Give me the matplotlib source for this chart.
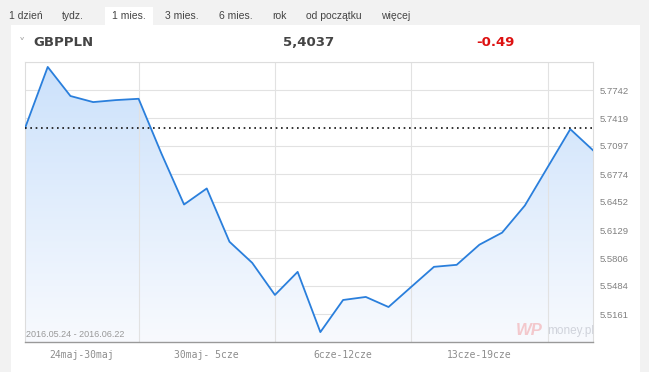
import numpy as np
import matplotlib.pyplot as plt
from matplotlib.patches import Rectangle

# dane z wykresu GBPPLN (1 mies.)
values = [5.7302, 5.8008, 5.7673, 5.7603, 5.7626, 5.7641, 5.7013, 5.6423, 5.6608,
          5.5994, 5.5751, 5.5381, 5.5647, 5.4953, 5.5323, 5.5358, 5.5242, 5.5474,
          5.5705, 5.5728, 5.5960, 5.6099, 5.6411, 5.6851, 5.7291, 5.7048]
ytick_labels = ["5.5161", "5.5484", "5.5806", "5.6129", "5.6452", "5.6774",
                "5.7097", "5.7419", "5.7742"]
week_labels = ["24maj-30maj", "30maj- 5cze", "6cze-12cze", "13cze-19cze"]
tabs = ["1 dzień", "tydz.", "1 mies.", "3 mies.", "6 mies.", "rok", "od początku", "więcej"]
tab_x = [26, 73, 129, 182, 236, 279, 334, 396]

plt.rcParams['font.family'] = ['Liberation Sans', 'DejaVu Sans']

W, H = 649, 372
fig = plt.figure(figsize=(W / 100, H / 100), dpi=100)
fig.patch.set_facecolor("#f2f2f2")

def fx(px):
    return px / W

def fy(py):
    return 1 - py / H

# white panel + selected tab
fig.patches.append(Rectangle((fx(11), 0), fx(629), fy(25), transform=fig.transFigure,
                             facecolor="white", edgecolor="none", zorder=-10))
fig.patches.append(Rectangle((fx(105), fy(25)), fx(48), 18 / H, transform=fig.transFigure,
                             facecolor="white", edgecolor="none", zorder=-10))

for t, x in zip(tabs, tab_x):
    fig.text(fx(x), fy(16), t, ha="center", va="center", fontsize=7.5, color="#444444")

fig.text(fx(22), fy(43), "˅", ha="center", va="center", fontsize=9, color="#aaaaaa",
         family="DejaVu Sans")
hdr = dict(va="center", fontsize=9.5, fontweight="bold", family="DejaVu Sans")
fig.text(fx(33), fy(43), "GBPPLN", ha="left", color="#444444", **hdr)
fig.text(fx(309), fy(43), "5,4037", ha="center", color="#444444", **hdr)
fig.text(fx(495), fy(43), "-0.49", ha="center", color="#dd1111", **hdr)

ax = fig.add_axes([fx(25), fy(342), fx(568), 280 / H])
ax.set_facecolor("white")
x = np.arange(len(values))
ymin, step = 5.4839, 0.032258

# gradient fill under the line
grad = np.linspace(0, 1, 256).reshape(-1, 1)
top = np.array([203, 225, 251]) / 255
bot = np.array([248, 250, 254]) / 255
img = top * (1 - grad)[..., None] + bot * grad[..., None]
im = ax.imshow(img, extent=[0, len(values) - 1, ymin, ymin + 10 * step],
               aspect="auto", origin="upper", zorder=1)
poly = ax.fill_between(x, values, ymin, facecolor="none", edgecolor="none")
im.set_clip_path(poly.get_paths()[0], transform=ax.transData)
ax.set_xlim(0, len(values) - 1)
ax.set_ylim(ymin, ymin + 10 * step)

# grid
for k in range(1, 11):
    ax.axhline(ymin + k * step, color="#e2e2e2", lw=0.8, zorder=0.5)
for gx in [5, 11, 17, 23]:
    ax.axvline(gx, color="#e2e2e2", lw=0.8, zorder=2)

ax.plot(x, values, color="#2a7fdc", lw=1.3, zorder=3)
ax.axhline(values[0], color="#111111", lw=1.2, ls=(0, (1, 2.2)), zorder=4)

ax.set_yticks([ymin + k * step for k in range(1, 10)])
ax.set_yticklabels(ytick_labels)
ax.yaxis.tick_right()
ax.tick_params(axis="y", length=0, pad=5, labelsize=6.8, labelcolor="#808080")
ax.set_xticks([2.5, 8, 14, 20])
ax.set_xticklabels(week_labels, family="DejaVu Sans Mono")
ax.tick_params(axis="x", length=0, pad=6, labelsize=7, labelcolor="#8c8c8c")

for s in ["left", "top", "right"]:
    ax.spines[s].set_color("#dddddd")
    ax.spines[s].set_linewidth(0.8)
ax.spines["bottom"].set_color("#999999")
ax.spines["bottom"].set_linewidth(1)

ax.text(0.05, ymin + 0.004, "2016.05.24 - 2016.06.22", fontsize=6.5, color="#999999",
        va="bottom", ha="left", zorder=5)
ax.text(21.6, ymin + 0.005, "WP", fontsize=12, fontweight="bold", style="italic",
        color="#f3c8cc", va="bottom", ha="left", zorder=5)
ax.text(23.0, ymin + 0.006, "money.pl", fontsize=8.5, color="#d0d3db",
        va="bottom", ha="left", zorder=5)

fig.savefig("out.png", dpi=100, facecolor=fig.get_facecolor())
